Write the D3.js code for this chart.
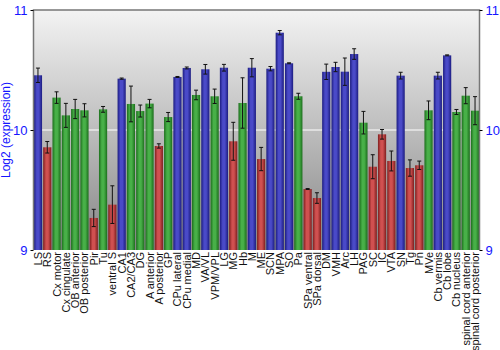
<!DOCTYPE html>
<html><head><meta charset="utf-8">
<script src="https://cdn.jsdelivr.net/npm/d3@7"></script>
<style>body{margin:0;background:#fff}svg{display:block}</style>
</head><body>
<svg id="c" width="500" height="350"></svg>
<script>
const categories = ["LS","RS","Cx motor","Cx cingulate","OB anterior","OB posterior","Pir","Tu","ventral S","CA1","CA2/CA3","DG","A anterior","A posterior","GP","CPu lateral","CPu medial","MD","VA/VL","VPM/VPL","LG","MG","Hb","M","ME","SCN","MPA","SO","Pa","SPa ventral","SPa dorsal","DM","VMH","Arc","LH","PAG","SC","IC","VTA","SN","Tg","Pn","MVe","Cb vermis","Cb lobe","Cb nucleus","spinal cord anterior","spinal cord posterior"];
const values = [10.456,9.856,10.27,10.122,10.175,10.164,9.267,10.172,9.378,10.428,10.217,10.158,10.22,9.867,10.108,10.442,10.517,10.292,10.506,10.281,10.519,9.906,10.225,10.519,9.758,10.511,10.811,10.556,10.281,9.508,9.433,10.485,10.525,10.486,10.633,10.061,9.694,9.964,9.742,10.453,9.683,9.706,10.164,10.453,10.622,10.15,10.286,10.161];
const errors = [0.06,0.048,0.048,0.1,0.08,0.055,0.072,0.024,0.157,0.005,0.149,0.05,0.035,0.018,0.038,0.004,0.008,0.04,0.04,0.06,0.028,0.158,0.21,0.076,0.097,0.018,0.018,0.004,0.025,0.004,0.044,0.064,0.039,0.114,0.044,0.094,0.1,0.04,0.083,0.028,0.068,0.035,0.078,0.028,0.004,0.021,0.067,0.117];
const groups = ["b","r","g","g","g","g","r","g","r","b","g","g","g","r","g","b","b","g","b","g","b","r","g","b","r","b","b","b","g","r","r","b","b","b","b","g","r","r","r","b","r","r","g","b","b","g","g","g"];
const yTicks = [9,10,11];
const yLabel = "Log2 (expression)";

const svg = d3.select("#c");
const L=33.5, R=479.5, T=10, B=250;
const x = d3.scaleBand().domain(categories).range([L,R]).paddingInner(0.12).paddingOuter(0.04);
const y = d3.scaleLinear().domain([9,11]).range([B,T]);

const defs = svg.append("defs");
const bg = defs.append("linearGradient").attr("id","bg").attr("x1",0).attr("y1",0).attr("x2",0).attr("y2",1);
bg.append("stop").attr("offset","0%").attr("stop-color","#f3f3f3");
bg.append("stop").attr("offset","50%").attr("stop-color","#bdbdbd");
bg.append("stop").attr("offset","100%").attr("stop-color","#868686");
const pal = {b:["#1c1c80","#4a4ac8"], r:["#7e1e1e","#d05050"], g:["#1c6e1c","#48b048"]};
Object.entries(pal).forEach(([k,[d,l]])=>{
  const g = defs.append("linearGradient").attr("id","g"+k).attr("x1",0).attr("y1",0).attr("x2",1).attr("y2",0);
  g.append("stop").attr("offset","0%").attr("stop-color",d);
  g.append("stop").attr("offset","35%").attr("stop-color",l);
  g.append("stop").attr("offset","60%").attr("stop-color",l);
  g.append("stop").attr("offset","100%").attr("stop-color",d);
});

svg.append("rect").attr("x",L).attr("y",T).attr("width",R-L).attr("height",B-T).attr("fill","url(#bg)");
svg.append("line").attr("x1",L).attr("x2",R).attr("y1",y(10)).attr("y2",y(10)).attr("stroke","#fff").attr("stroke-width",1.2);

svg.append("g").selectAll("rect").data(categories).join("rect")
  .attr("x",d=>x(d)).attr("width",x.bandwidth())
  .attr("y",(d,i)=>y(values[i])).attr("height",(d,i)=>B-y(values[i]))
  .attr("fill",(d,i)=>"url(#g"+groups[i]+")");

const eb = svg.append("g").attr("stroke","#111").attr("stroke-width",1);
categories.forEach((c,i)=>{
  const cx = x(c)+x.bandwidth()/2;
  const y1=y(values[i]+errors[i]), y2=y(values[i]-errors[i]);
  eb.append("line").attr("x1",cx).attr("x2",cx).attr("y1",y1).attr("y2",y2);
  eb.append("line").attr("x1",cx-2).attr("x2",cx+2).attr("y1",y1).attr("y2",y1);
  eb.append("line").attr("x1",cx-2).attr("x2",cx+2).attr("y1",y2).attr("y2",y2);
});

svg.append("path").attr("d",`M${L},${B}V${T}H${R}V${B}`).attr("fill","none").attr("stroke","#777").attr("stroke-width",1.5);

const yl = d3.axisLeft(y).tickValues(yTicks).tickFormat(d3.format("d")).tickSize(3);
const yr = d3.axisRight(y).tickValues(yTicks).tickFormat(d3.format("d")).tickSize(3);
[[yl,L],[yr,R]].forEach(([ax,px])=>{
  const g = svg.append("g").attr("transform",`translate(${px},0)`).call(ax);
  g.select(".domain").remove();
  g.selectAll("line").attr("stroke","#000");
  g.selectAll("text").attr("fill","#1515ff").attr("font-family","Liberation Sans, Arial, sans-serif").attr("font-size",13).attr("dy","0.35em");
});

svg.append("text").attr("transform",`translate(10,${(T+B)/2}) rotate(-90)`).attr("text-anchor","middle")
  .attr("fill","#1515ff").attr("font-family","Liberation Sans, Arial, sans-serif").attr("font-size",12).text(yLabel);

svg.append("g").selectAll("text").data(categories).join("text")
  .attr("transform",d=>`translate(${x(d)+x.bandwidth()/2+4},${B+2}) rotate(-90)`)
  .attr("text-anchor","end").attr("font-family","Liberation Sans, Arial, sans-serif").attr("font-size",11).attr("fill","#111")
  .text(d=>d);
</script>
</body></html>
